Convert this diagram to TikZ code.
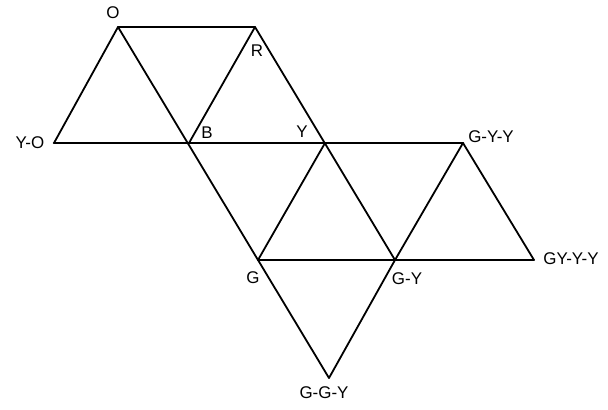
\documentclass[tikz,border=0pt]{standalone}
\usepackage{fontspec}
\setmainfont{Liberation Sans}
\begin{document}
\begin{tikzpicture}[x=1bp,y=-1bp,
  edge/.style={line width=1.8bp,line cap=round,line join=round},
  thickedge/.style={line width=2.6bp,line cap=round},
  lbl/.style={font=\fontsize{17}{17}\selectfont,inner sep=0pt}]
\useasboundingbox (0,0) rectangle (608,409);
% vertices
\coordinate (O) at (118,27);
\coordinate (R) at (255,27);
\coordinate (YO) at (54,143);
\coordinate (B) at (189,143);
\coordinate (Y) at (325,143);
\coordinate (GYY) at (463,143);
\coordinate (G) at (258,260);
\coordinate (GY) at (395,260);
\coordinate (GYYY) at (534,260);
\coordinate (GGY) at (329,378);
% edges
\draw[edge] (O) -- (R);
\draw[edge] (O) -- (YO);
\draw[edge] (O) -- (G);
\draw[edge] (R) -- (B);
\draw[edge] (R) -- (GY);
\draw[thickedge] (YO) -- (GYY);
\draw[edge] (Y) -- (G);
\draw[edge] (G) -- (GYYY);
\draw[edge] (GYY) -- (GY);
\draw[edge] (GYY) -- (GYYY);
\draw[edge] (G) -- (GGY);
\draw[edge] (GY) -- (GGY);
% labels
\node[lbl] (lO) at (113,13) {O};
\node[lbl] (lR) at (257,51) {R};
\node[lbl] (lYO) at (30,143) {Y-O};
\node[lbl] (lB) at (207,133) {B};
\node[lbl] (lY) at (302,132) {Y};
\node[lbl] (lGYY) at (491,137) {G-Y-Y};
\node[lbl] (lGYYY) at (571,259) {GY-Y-Y};
\node[lbl] (lGY) at (407,279) {G-Y};
\node[lbl] (lG) at (253,278) {G};
\node[lbl] (lGGY) at (324,393) {G-G-Y};
\end{tikzpicture}
\end{document}
